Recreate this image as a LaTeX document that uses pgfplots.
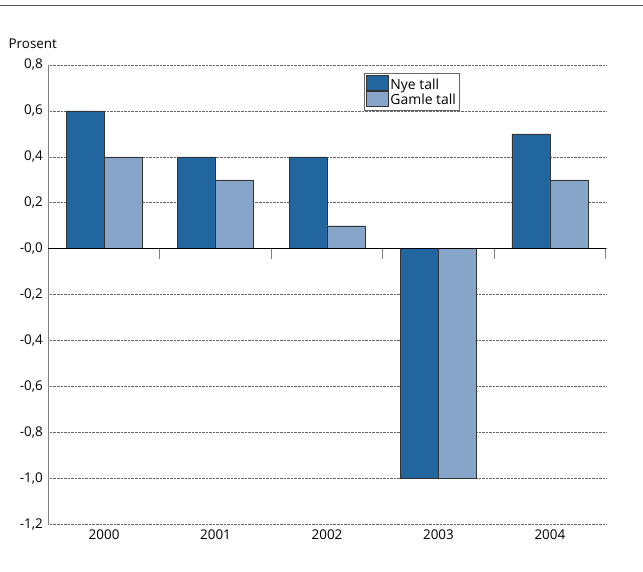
\documentclass[border=0pt]{standalone}
\usepackage{pgfplots}
\pgfplotsset{compat=1.18}
\usepackage{fontspec}
\setmainfont{Open Sans}
\definecolor{dk}{HTML}{21669E}
\definecolor{lt}{HTML}{87A4C9}
\begin{document}
\begin{tikzpicture}
\path (0bp,0bp) rectangle (643bp,572bp);
\draw[gray!70!black, line width=0.8bp] (0bp,567bp) -- (643bp,567bp);
\node[anchor=west, inner sep=0pt, font=\fontsize{13.5}{15}\selectfont] at (8bp,528bp) {Prosent};
\begin{axis}[
  at={(48bp,47bp)}, anchor=south west,
  width=558bp, height=460bp, scale only axis,
  ybar, bar width=38bp,
  xmin=-0.5, xmax=4.5, ymin=-1.2, ymax=0.8,
  xtick={0,1,2,3,4}, xticklabels={2000,2001,2002,2003,2004},
  ytick={-1.2,-1,-0.8,-0.6,-0.4,-0.2,0,0.2,0.4,0.6,0.8},
  yticklabels={{-1,2},{-1,0},{-0,8},{-0,6},{-0,4},{-0,2},{-0,0},{0,2},{0,4},{0,6},{0,8}},
  tick label style={font=\fontsize{13.5}{15}\selectfont},
  yticklabel style={xshift=-2bp},
  xticklabel style={yshift=-2bp},
  major tick length=0pt,
  axis line style={draw=none},
  ymajorgrids, grid style={densely dotted, gray!80!black, line width=0.6bp},
  legend cell align=left,
  legend style={at={(0.566,0.983)}, anchor=north west, draw=gray!80!black, line width=0.8bp,
    font=\fontsize{14}{16}\selectfont, inner xsep=2bp, inner ysep=2bp, row sep=-1bp,
    nodes={inner xsep=1.5bp, inner ysep=1.5bp}},
  legend image code/.code={\draw[#1, line width=0.8bp] (0bp,-6bp) rectangle (22bp,9bp);},
  clip=false,
]
\addplot[fill=dk, draw=black!80, bar shift=-19bp] coordinates {(0,0.6) (1,0.4) (2,0.4) (3,-1.0) (4,0.5)};
\addplot[fill=lt, draw=black!80, bar shift=19bp] coordinates {(0,0.4) (1,0.3) (2,0.1) (3,-1.0) (4,0.3)};
\legend{Nye tall, Gamle tall}
\draw[gray, line width=1bp] (axis cs:-0.5,-1.2) -- (axis cs:-0.5,0.8);
\draw[black, line width=1bp] (axis cs:-0.5,0) -- (axis cs:4.5,0);
\pgfplotsinvokeforeach{0.5,1.5,2.5,3.5,4.5}{\draw[gray, line width=0.8bp] (axis cs:#1,0) -- ([yshift=-10bp]axis cs:#1,0);}
\end{axis}
\end{tikzpicture}
\end{document}
